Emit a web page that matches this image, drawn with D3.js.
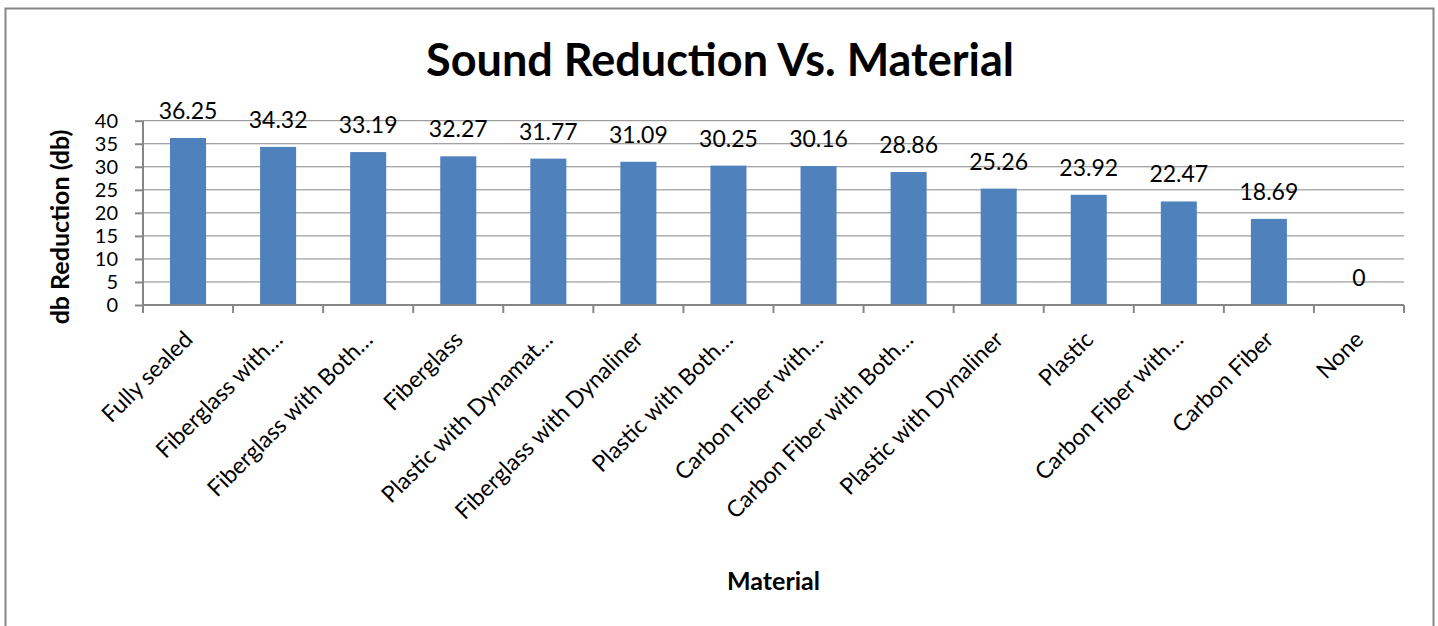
<!DOCTYPE html>
<html>
<head>
<meta charset="utf-8">
<script src="https://cdn.jsdelivr.net/npm/d3@7"></script>
<style>
    body { margin: 0; background: #fff; }
    svg { display: block; }
    text { font-family: Lato, "Open Sans", sans-serif; fill: #000; }
</style>
</head>
<body>
<svg></svg>
<script>
var width = 1438;
var height = 626;
var margin = {top: 120.7, right: 34, bottom: 321, left: 143};
var barColor = "#4f81bd";
var lineColor = "#868686";

// chart data
var materials = [
    "Fully sealed", "Fiberglass with\u2026", "Fiberglass with Both\u2026", "Fiberglass",
    "Plastic with Dynamat\u2026", "Fiberglass with Dynaliner", "Plastic with Both\u2026",
    "Carbon Fiber with\u2026", "Carbon Fiber with Both\u2026", "Plastic with Dynaliner",
    "Plastic", "Carbon Fiber with\u2026", "Carbon Fiber", "None"
];
var reductions = [36.25, 34.32, 33.19, 32.27, 31.77, 31.09, 30.25, 30.16, 28.86, 25.26, 23.92, 22.47, 18.69, 0];
var yTicks = [0, 5, 10, 15, 20, 25, 30, 35, 40];

var svg = d3.select("svg")
    .attr("width", width)
    .attr("height", height);

// outer chart border
svg.append("rect")
    .attr("x", 5.5)
    .attr("y", 8.5)
    .attr("width", 1428)
    .attr("height", 640)
    .attr("fill", "none")
    .attr("stroke", lineColor)
    .attr("stroke-width", 2);

var plotWidth = width - margin.left - margin.right;
var plotHeight = height - margin.top - margin.bottom;

var x = d3.scaleBand()
    .domain(d3.range(materials.length))
    .range([0, plotWidth])
    .paddingInner(0.6)
    .paddingOuter(0.3);

var y = d3.scaleLinear()
    .domain([0, 40])
    .range([plotHeight, 0]);

var g = svg.append("g")
    .attr("transform", "translate(" + margin.left + "," + margin.top + ")");

// gridlines
g.append("g")
    .selectAll("line")
    .data(yTicks.slice(1))
    .enter()
    .append("line")
    .attr("x1", 0)
    .attr("x2", plotWidth)
    .attr("y1", function(d) { return y(d); })
    .attr("y2", function(d) { return y(d); })
    .attr("stroke", lineColor)
    .attr("stroke-width", 1);

// bars
g.append("g")
    .selectAll("rect")
    .data(reductions)
    .enter()
    .append("rect")
    .attr("x", function(d, i) { return x(i); })
    .attr("y", function(d) { return y(d); })
    .attr("width", x.bandwidth())
    .attr("height", function(d) { return plotHeight - y(d); })
    .attr("fill", barColor);

// data labels
g.append("g")
    .selectAll("text")
    .data(reductions)
    .enter()
    .append("text")
    .attr("text-anchor", "middle")
    .attr("x", function(d, i) { return x(i) + x.bandwidth() / 2; })
    .attr("y", function(d) { return y(d) - 19; })
    .style("font-size", "23px")
    .text(function(d) { return d; });

// y axis
var yAxis = g.append("g")
    .call(d3.axisLeft(y).tickValues(yTicks).tickSize(8).tickPadding(17));
yAxis.selectAll("line, path").attr("stroke", lineColor).attr("stroke-width", 2);
yAxis.select(".domain").attr("d", "M0," + plotHeight + "V0");
yAxis.selectAll("text").style("font-size", "20px").style("font-family", "Lato, sans-serif");

// x axis ticks at category boundaries
var step = plotWidth / materials.length;
var xAxis = g.append("g")
    .attr("transform", "translate(0," + plotHeight + ")");
xAxis.append("line")
    .attr("x1", 0)
    .attr("x2", plotWidth)
    .attr("stroke", lineColor)
    .attr("stroke-width", 2);
xAxis.selectAll(".tick")
    .data(d3.range(materials.length + 1))
    .enter()
    .append("line")
    .attr("x1", function(d) { return d * step; })
    .attr("x2", function(d) { return d * step; })
    .attr("y1", 0)
    .attr("y2", 8)
    .attr("stroke", lineColor)
    .attr("stroke-width", 2);

// rotated category labels
xAxis.selectAll(".label")
    .data(materials)
    .enter()
    .append("text")
    .attr("text-anchor", "end")
    .attr("transform", function(d, i) {
        return "translate(" + (x(i) + x.bandwidth() / 2 + 6) + ",36) rotate(-45)";
    })
    .style("font-size", "23px")
    .text(function(d) { return d; });

// titles
svg.append("text")
    .attr("x", 720)
    .attr("y", 76)
    .attr("text-anchor", "middle")
    .style("font-size", "45px")
    .style("font-weight", "bold")
    .text("Sound Reduction Vs. Material");

svg.append("text")
    .attr("x", margin.left + plotWidth / 2)
    .attr("y", 590)
    .attr("text-anchor", "middle")
    .style("font-size", "25px")
    .style("font-weight", "bold")
    .text("Material");

svg.append("text")
    .attr("transform", "translate(69,227) rotate(-90)")
    .attr("text-anchor", "middle")
    .style("font-size", "25px")
    .style("font-weight", "bold")
    .text("db Reduction (db)");
</script>
</body>
</html>
